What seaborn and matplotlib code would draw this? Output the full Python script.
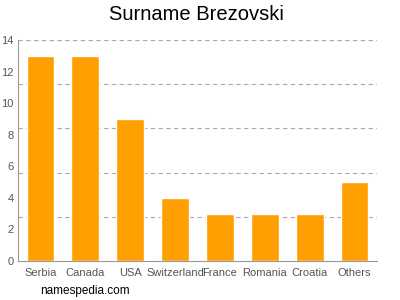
import matplotlib
matplotlib.use("Agg")
import matplotlib.pyplot as plt
import seaborn as sns
import pandas as pd

categories = ["Serbia", "Canada", "USA", "Switzerland", "France", "Romania", "Croatia", "Others"]
counts = [13, 13, 9, 4, 3, 3, 3, 5]
yticks = [0, 2, 4, 6, 8, 10, 12, 14]
gridlines = [2.8, 5.6, 8.4, 11.2, 14]

sns.set_style("white")
plt.rcParams['font.family'] = ['Liberation Sans', 'DejaVu Sans']

df = pd.DataFrame({"country": categories, "count": counts})

fig = plt.figure(figsize=(4, 3), dpi=100)
ax = fig.add_axes([0.045, 0.13, 0.8975, 0.7367])
sns.barplot(data=df, x="country", y="count", color="#FFA000", saturation=1, width=0.62, ax=ax, zorder=3)
for g in gridlines:
    ax.axhline(g, color="#aaaaaa", linestyle=(0, (4, 3)), linewidth=0.8, zorder=1)
ax.set_xlim(-0.5, 7.5)
ax.set_ylim(0, 14)
ax.set_yticks(yticks)
ax.set_xlabel("")
ax.set_ylabel("")
for s in ["top", "right"]:
    ax.spines[s].set_visible(False)
for s in ["left", "bottom"]:
    ax.spines[s].set_color("#999999")
    ax.spines[s].set_linewidth(0.8)
ax.tick_params(axis="both", colors="#999999", length=3, width=0.8, labelsize=8, labelcolor="#555555", pad=2)
ax.tick_params(axis="y", length=2, pad=1)
fig.text(0.49, 0.95, "Surname Brezovski", ha="center", va="center", fontsize=14.5, color="#000000")
fig.text(0.1, 0.03, "namespedia.com", ha="left", va="center", fontsize=8.5, color="#000000")
fig.savefig("out.png", dpi=100)
